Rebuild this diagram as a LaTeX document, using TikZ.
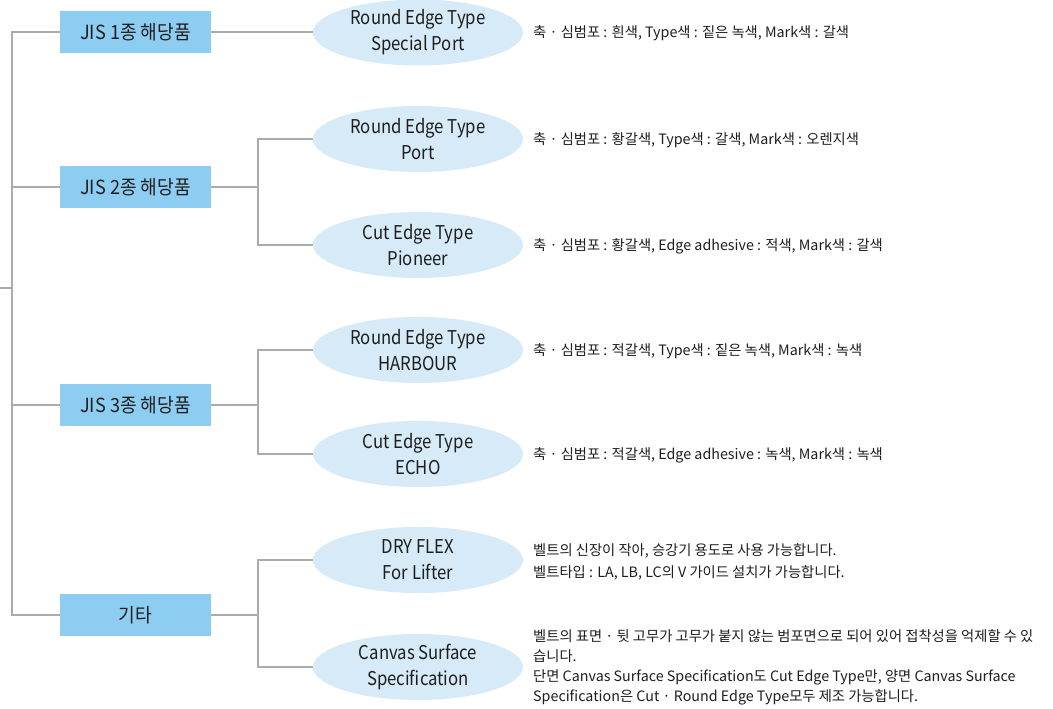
\documentclass[tikz,border=0pt]{standalone}
\usepackage{fontspec}
\setmainfont{Noto Sans CJK KR}
\newfontfamily\boxfont{Noto Sans CJK KR}[FakeStretch=0.93]
\newfontfamily\ellfont{Noto Sans CJK KR}[FakeStretch=0.88]
\newfontfamily\descfont{Noto Sans CJK KR}
\usetikzlibrary{shapes.geometric}
\definecolor{boxblue}{HTML}{8ECDF2}
\definecolor{ellblue}{HTML}{D7EAF8}
\definecolor{linegray}{HTML}{ABABAB}
\definecolor{txt}{HTML}{1E1E1E}
\tikzset{
  catbox/.style={fill=boxblue, minimum width=151pt, minimum height=42pt, inner sep=0pt, font=\boxfont\fontsize{19.5}{22}\selectfont, text=txt},
  typeell/.style={ellipse, fill=ellblue, minimum width=210pt, minimum height=66pt, inner sep=0pt, align=center, font=\ellfont\fontsize{19}{26}\selectfont, text=txt},
  desc/.style={anchor=west, align=left, inner sep=0pt, font=\descfont\fontsize{14.3}{22}\selectfont, text=txt},
  descsm/.style={anchor=west, align=left, inner sep=0pt, font=\descfont\fontsize{14.3}{20}\selectfont, text=txt},
  conn/.style={draw=linegray, line width=2pt}
}
\begin{document}
\begin{tikzpicture}[x=1pt,y=-1pt]
\useasboundingbox (0,0) rectangle (1053,709);
\fill[white] (0,0) rectangle (1053,709);
% category boxes
\node[catbox] (b1) at (135.5,32.5) {JIS 1종 해당품};
\node[catbox] (b2) at (135.5,187) {JIS 2종 해당품};
\node[catbox] (b3) at (135.5,405) {JIS 3종 해당품};
\node[catbox] (b4) at (135.5,615) {기타};
% ellipses
\node[typeell] (e1) at (418,32.5) {Round Edge Type\\Special Port};
\node[typeell] (e2) at (418,139) {Round Edge Type\\Port};
\node[typeell] (e3) at (418,245) {Cut Edge Type\\Pioneer};
\node[typeell] (e4) at (418,350) {Round Edge Type\\HARBOUR};
\node[typeell] (e5) at (418,454) {Cut Edge Type\\ECHO};
\node[typeell] (e6) at (418,560) {DRY FLEX\\For Lifter};
\node[typeell] (e7) at (418,667) {Canvas Surface\\Specification};
% descriptions
\node[desc] (d1) at (533,33) {축 · 심범포 : 흰색, Type색 : 짙은 녹색, Mark색 : 갈색};
\node[desc] (d2) at (533,140) {축 · 심범포 : 황갈색, Type색 : 갈색, Mark색 : 오렌지색};
\node[desc] (d3) at (533,246) {축 · 심범포 : 황갈색, Edge adhesive : 적색, Mark색 : 갈색};
\node[desc] (d4) at (533,351) {축 · 심범포 : 적갈색, Type색 : 짙은 녹색, Mark색 : 녹색};
\node[desc] (d5) at (533,455) {축 · 심범포 : 적갈색, Edge adhesive : 녹색, Mark색 : 녹색};
\node[desc] (d6) at (533,562) {벨트의 신장이 작아, 승강기 용도로 사용 가능합니다.\\벨트타입 : LA, LB, LC의 V 가이드 설치가 가능합니다.};
\node[descsm] (d7) at (533,667) {벨트의 표면 · 뒷 고무가 고무가 붙지 않는 범포면으로 되어 있어 접착성을 억제할 수 있\\습니다.\\단면 Canvas Surface Specification도 Cut Edge Type만, 양면 Canvas Surface\\Specification은 Cut · Round Edge Type모두 제조 가능합니다.};
% spine
\coordinate (s1) at (12,32.5);
\coordinate (s4) at (12,615);
\coordinate (r0) at (0,288);
\draw[conn] (b1.west) -- (s1) -- (s4) -- (b4.west);
\draw[conn] (b2.west) -- (b2.west -| s1);
\draw[conn] (b3.west) -- (b3.west -| s1);
\draw[conn] (r0) -- (r0 -| s1);
% branches
\draw[conn] (b1.east) -- (e1.west);
\coordinate (k2) at (258,187);
\coordinate (k3) at (258,405);
\coordinate (k4) at (258,615);
\draw[conn] (b2.east) -- (k2);
\draw[conn] (e2.west) -| (k2) |- (e3.west);
\draw[conn] (b3.east) -- (k3);
\draw[conn] (e4.west) -| (k3) |- (e5.west);
\draw[conn] (b4.east) -- (k4);
\draw[conn] (e6.west) -| (k4) |- (e7.west);
\end{tikzpicture}
\end{document}
